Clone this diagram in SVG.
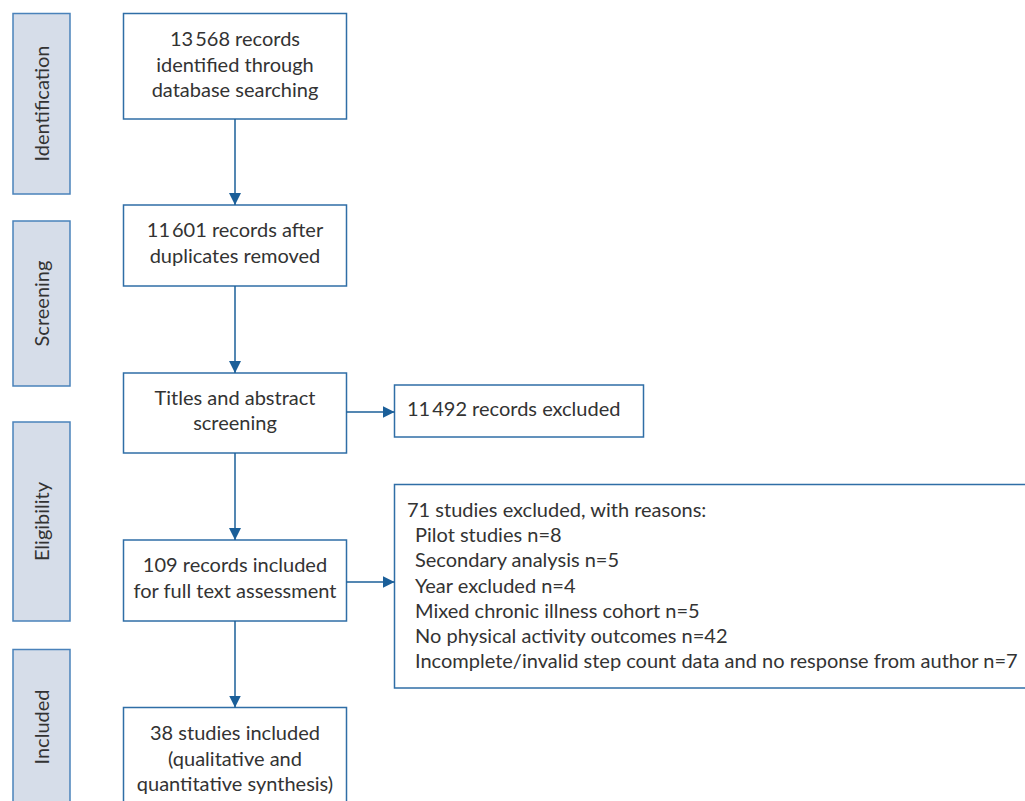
<svg xmlns="http://www.w3.org/2000/svg" width="1025" height="801" viewBox="0 0 1025 801">
<style>
.stage{fill:#d6dde9;stroke:#4a82ba;stroke-width:1.5}
.box{fill:#ffffff;stroke:#2f6ea6;stroke-width:1.5}
.t{font-family:Lato,"Liberation Sans",sans-serif;font-size:20px;fill:#333333}
.c{text-anchor:middle}
.conn{stroke:#1b5f99;stroke-width:1.5;fill:none}
</style>
<defs>
<marker id="ah" markerWidth="12" markerHeight="12" refX="12" refY="6" orient="auto" markerUnits="userSpaceOnUse">
<path d="M0,0 L12,6 L0,12 Z" fill="#1b5f99"/>
</marker>
</defs>
<rect width="1025" height="801" fill="#ffffff"/>
<g id="stage-identification">
<rect class="stage" x="13" y="13.5" width="57" height="180.5"/>
<text class="t c" transform="translate(49,103.5) rotate(-90)">Identification</text>
</g>
<g id="stage-screening">
<rect class="stage" x="13" y="221" width="57" height="165"/>
<text class="t c" transform="translate(49,303.5) rotate(-90)">Screening</text>
</g>
<g id="stage-eligibility">
<rect class="stage" x="13" y="422" width="57" height="199"/>
<text class="t c" transform="translate(49,521.5) rotate(-90)">Eligibility</text>
</g>
<g id="stage-included">
<rect class="stage" x="13" y="649.5" width="57" height="160"/>
<text class="t c" transform="translate(49,727) rotate(-90)">Included</text>
</g>
<g id="n1">
<rect class="box" x="123.5" y="13.5" width="223" height="105.5"/>
<text class="t c" x="235" y="46">13<tspan dx="2">568 records</tspan></text>
<text class="t c" x="235" y="71.5">identified through</text>
<text class="t c" x="235" y="97">database searching</text>
</g>
<g id="n2">
<rect class="box" x="123.5" y="205" width="223" height="81"/>
<text class="t c" x="235" y="237">11<tspan dx="2">601 records after</tspan></text>
<text class="t c" x="235" y="262.5">duplicates removed</text>
</g>
<g id="n3">
<rect class="box" x="123.5" y="373" width="223" height="80"/>
<text class="t c" x="235" y="404.5">Titles and abstract</text>
<text class="t c" x="235" y="430">screening</text>
</g>
<g id="n4">
<rect class="box" x="123.5" y="540" width="223" height="81"/>
<text class="t c" x="235" y="572">109 records included</text>
<text class="t c" x="235" y="597.5">for full text assessment</text>
</g>
<g id="n5">
<rect class="box" x="123.5" y="707.5" width="223" height="100"/>
<text class="t c" x="235" y="740">38 studies included</text>
<text class="t c" x="235" y="765.5">(qualitative and</text>
<text class="t c" x="235" y="791">quantitative synthesis)</text>
</g>
<g id="x1">
<rect class="box" x="394.5" y="385" width="249" height="52"/>
<text class="t" x="407" y="416">11<tspan dx="2">492 records excluded</tspan></text>
</g>
<g id="x2">
<rect class="box" x="394.5" y="484.5" width="640" height="203.5"/>
<text class="t" x="407" y="516.5">71 studies excluded, with reasons:</text>
<text class="t" x="415" y="542">Pilot studies n=8</text>
<text class="t" x="415" y="567">Secondary analysis n=5</text>
<text class="t" x="415" y="592.5">Year excluded n=4</text>
<text class="t" x="415" y="617.5">Mixed chronic illness cohort n=5</text>
<text class="t" x="415" y="643">No physical activity outcomes n=42</text>
<text class="t" x="415" y="668">Incomplete/invalid step count data and no response from author n=7</text>
</g>
<g id="connectors">
<line class="conn" x1="235" y1="119" x2="235" y2="205" marker-end="url(#ah)"/>
<line class="conn" x1="235" y1="286" x2="235" y2="373" marker-end="url(#ah)"/>
<line class="conn" x1="235" y1="453" x2="235" y2="540" marker-end="url(#ah)"/>
<line class="conn" x1="235" y1="621" x2="235" y2="707.5" marker-end="url(#ah)"/>
<line class="conn" x1="346.5" y1="412" x2="394.5" y2="412" marker-end="url(#ah)"/>
<line class="conn" x1="346.5" y1="582" x2="394.5" y2="582" marker-end="url(#ah)"/>
</g>
</svg>
